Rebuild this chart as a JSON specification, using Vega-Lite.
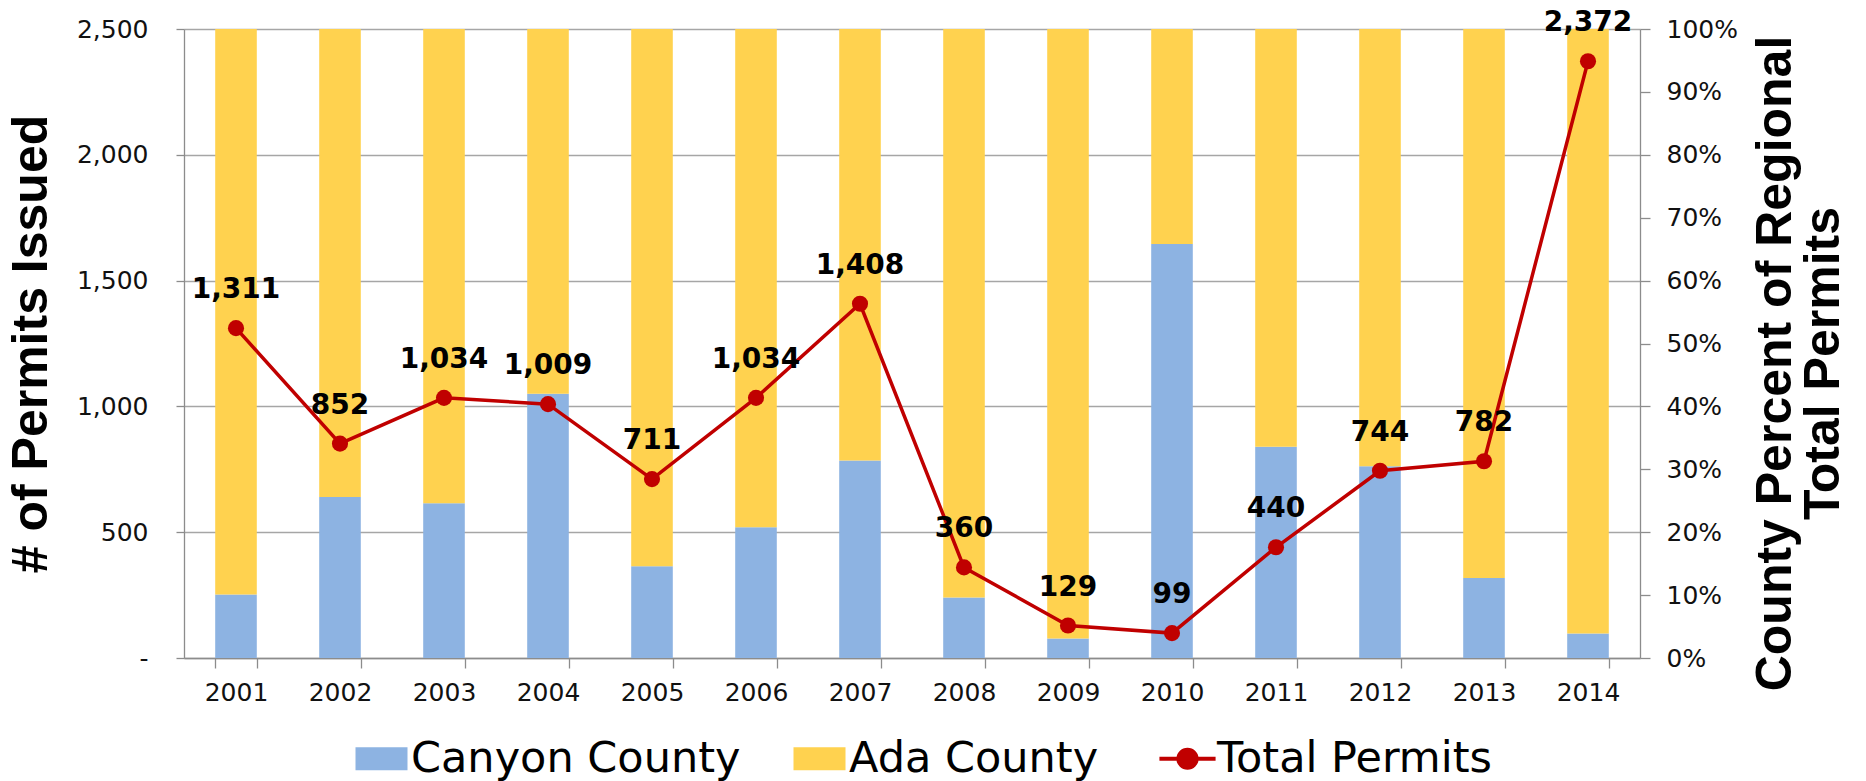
{
  "$schema": "https://vega.github.io/schema/vega-lite/v6.json",
  "autosize": {"type": "none"},
  "width": 1456,
  "height": 629,
  "padding": {"left": 184, "top": 29, "right": 226, "bottom": 123},
  "background": "white",
  "config": {
    "view": {"stroke": null},
    "font": "DejaVu Sans",
    "axis": {
      "domainColor": "#8c8c8c", "tickColor": "#8c8c8c", "gridColor": "#a6a6a6",
      "domainWidth": 1.3, "tickWidth": 1.3, "gridWidth": 1.3,
      "labelColor": "#111111", "titleColor": "#000000",
      "labelFont": "DejaVu Sans", "titleFont": "Liberation Sans", "titleFontWeight": "bold"
    }
  },
  "datasets": {
    "shares": [
      {"year": "2001", "county": "Canyon County", "share": 0.101},
      {"year": "2001", "county": "Ada County", "share": 0.899},
      {"year": "2002", "county": "Canyon County", "share": 0.256},
      {"year": "2002", "county": "Ada County", "share": 0.744},
      {"year": "2003", "county": "Canyon County", "share": 0.246},
      {"year": "2003", "county": "Ada County", "share": 0.754},
      {"year": "2004", "county": "Canyon County", "share": 0.420},
      {"year": "2004", "county": "Ada County", "share": 0.580},
      {"year": "2005", "county": "Canyon County", "share": 0.146},
      {"year": "2005", "county": "Ada County", "share": 0.854},
      {"year": "2006", "county": "Canyon County", "share": 0.208},
      {"year": "2006", "county": "Ada County", "share": 0.792},
      {"year": "2007", "county": "Canyon County", "share": 0.314},
      {"year": "2007", "county": "Ada County", "share": 0.686},
      {"year": "2008", "county": "Canyon County", "share": 0.096},
      {"year": "2008", "county": "Ada County", "share": 0.904},
      {"year": "2009", "county": "Canyon County", "share": 0.031},
      {"year": "2009", "county": "Ada County", "share": 0.969},
      {"year": "2010", "county": "Canyon County", "share": 0.658},
      {"year": "2010", "county": "Ada County", "share": 0.342},
      {"year": "2011", "county": "Canyon County", "share": 0.336},
      {"year": "2011", "county": "Ada County", "share": 0.664},
      {"year": "2012", "county": "Canyon County", "share": 0.305},
      {"year": "2012", "county": "Ada County", "share": 0.695},
      {"year": "2013", "county": "Canyon County", "share": 0.127},
      {"year": "2013", "county": "Ada County", "share": 0.873},
      {"year": "2014", "county": "Canyon County", "share": 0.039},
      {"year": "2014", "county": "Ada County", "share": 0.961}
    ],
    "totals": [
      {"year": "2001", "total": 1311},
      {"year": "2002", "total": 852},
      {"year": "2003", "total": 1034},
      {"year": "2004", "total": 1009},
      {"year": "2005", "total": 711},
      {"year": "2006", "total": 1034},
      {"year": "2007", "total": 1408},
      {"year": "2008", "total": 360},
      {"year": "2009", "total": 129},
      {"year": "2010", "total": 99},
      {"year": "2011", "total": 440},
      {"year": "2012", "total": 744},
      {"year": "2013", "total": 782},
      {"year": "2014", "total": 2372}
    ]
  },
  "encoding": {
    "x": {
      "field": "year", "type": "ordinal",
      "scale": {"paddingInner": 0.6, "paddingOuter": 0.3},
      "axis": {"title": null, "labelAngle": 0, "labelFontSize": 25, "tickBand": "extent", "tickSize": 10, "labelPadding": 12}
    }
  },
  "layer": [
    {
      "data": {"name": "shares"},
      "mark": {"type": "bar"},
      "encoding": {
        "y": {
          "field": "share", "type": "quantitative", "stack": "zero",
          "scale": {"domain": [0, 1], "nice": false},
          "axis": {
            "orient": "right", "values": [0, 0.1, 0.2, 0.3, 0.4, 0.5, 0.6, 0.7, 0.8, 0.9, 1],
            "format": ".0%", "grid": false, "labelFontSize": 25, "tickSize": 10, "labelPadding": 16,
            "title": ["County Percent of Regional", "Total Permits"],
            "titleAngle": 270, "titleFontSize": 50, "titleLineHeight": 48, "titlePadding": 15, "titleY": 334
          }
        },
        "color": {
          "field": "county", "type": "nominal",
          "scale": {"domain": ["Canyon County", "Ada County", "Total Permits"], "range": ["#8DB3E2", "#FFD24F", "#C00000"]},
          "legend": {
            "orient": "none", "legendX": 176, "legendY": 708, "direction": "horizontal", "title": null,
            "padding": 0,
            "labelFontSize": 43, "labelFont": "DejaVu Sans", "labelColor": "#000000", "labelLimit": 0,
            "symbolSize": 2704, "symbolType": "square", "labelOffset": 8, "columnPadding": 52,
            "encode": {
              "symbols": {
                "update": {
                  "shape": {"signal": "datum.value === 'Total Permits' ? 'M-1.08,0L1.08,0M0.35,0A0.35,0.35,0,1,1,-0.35,0A0.35,0.35,0,1,1,0.35,0Z' : 'M-1,-0.44H1V0.44H-1Z'"},
                  "fill": {"signal": "scale('color', datum.value)"},
                  "stroke": {"signal": "scale('color', datum.value)"},
                  "strokeWidth": {"signal": "datum.value === 'Total Permits' ? 4 : 0"},
                  "opacity": {"value": 1},
                  "fillOpacity": {"value": 1}
                }
              }
            }
          }
        },
        "order": {"field": "county", "sort": "descending"}
      }
    },
    {
      "data": {"name": "totals"},
      "encoding": {
        "y": {
          "field": "total", "type": "quantitative",
          "scale": {"domain": [0, 2500], "nice": false},
          "axis": {
            "orient": "left", "values": [0, 500, 1000, 1500, 2000, 2500], "grid": true,
            "labelExpr": "datum.value === 0 ? '-\u00a0\u00a0' : format(datum.value, ',')",
            "labelFontSize": 25, "tickSize": 8, "labelPadding": 28,
            "title": "# of Permits Issued", "titleFontSize": 50, "titlePadding": 20
          }
        }
      },
      "layer": [
        {"mark": {"type": "line", "strokeWidth": 3.5}, "encoding": {"color": {"datum": "Total Permits"}}},
        {"mark": {"type": "point", "filled": true, "size": 260, "opacity": 1}, "encoding": {"color": {"datum": "Total Permits"}}},
        {"mark": {"type": "text", "dy": -38, "fontSize": 28, "fontWeight": "bold", "font": "DejaVu Sans", "color": "#000000"}, "encoding": {"text": {"field": "total", "format": ","}}}
      ]
    }
  ],
  "resolve": {"scale": {"y": "independent"}}
}
